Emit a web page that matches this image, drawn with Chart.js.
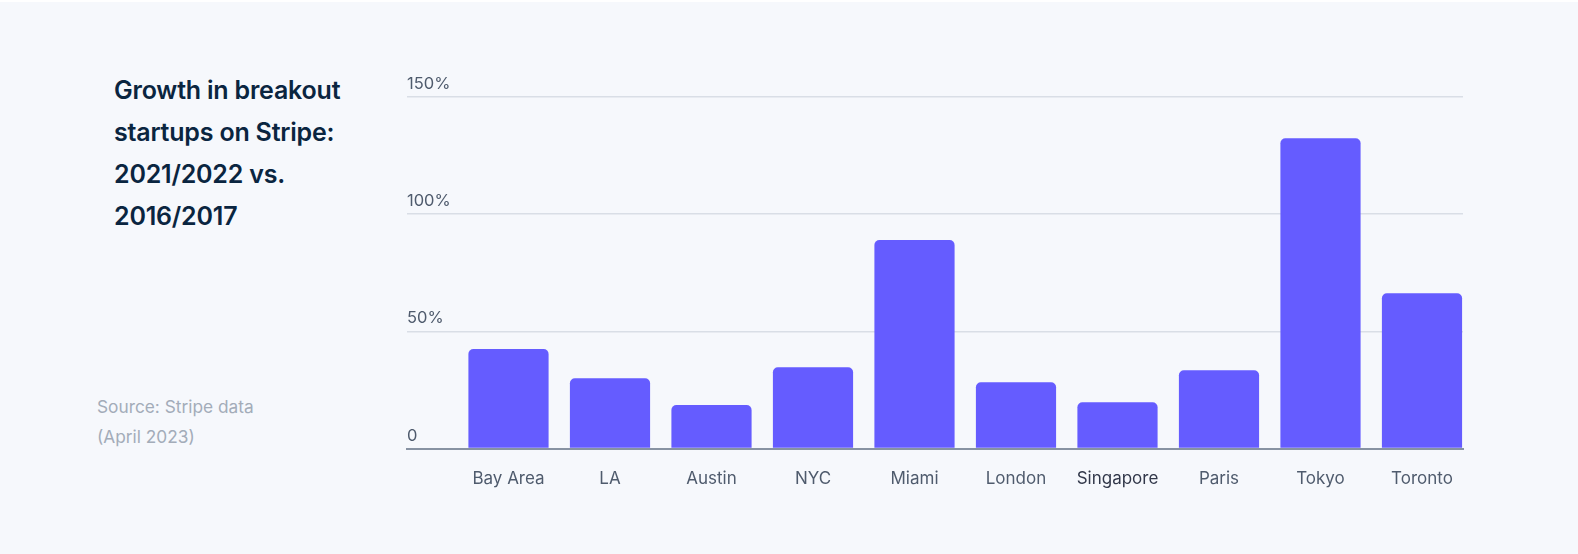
<!DOCTYPE html>
<html>
<head>
<meta charset="utf-8">
<script src="https://cdn.jsdelivr.net/npm/chart.js@4/dist/chart.umd.min.js"></script>
<style>
  html, body { margin: 0; padding: 0; background: #ffffff; }
  #panel { position: absolute; left: 0; top: 2px; width: 1578px; height: 552px; background: #f6f8fc; }
  #title { position: absolute; left: 114px; top: 69px; width: 270px; font-family: Inter, sans-serif; font-weight: 600;
           font-size: 25px; line-height: 42px; color: #0a2540; letter-spacing: -0.2px; }
  #source { position: absolute; left: 97px; top: 392px; font-family: Inter, sans-serif; font-size: 17.3px;
            line-height: 30px; color: #a3acb9; }
  #wrap { position: absolute; left: 0; top: 0; width: 1578px; height: 554px; }
</style>
</head>
<body>
<div id="panel"></div>
<div id="title">Growth in breakout startups on Stripe: 2021/2022 vs. 2016/2017</div>
<div id="source">Source: Stripe data<br>(April 2023)</div>
<div id="wrap"><canvas id="mycanvas"></canvas></div>
<script>
var cities = ['Bay Area', 'LA', 'Austin', 'NYC', 'Miami', 'London', 'Singapore', 'Paris', 'Tokyo', 'Toronto'];
var growth = [42.5, 30.0, 18.6, 34.7, 89.0, 28.3, 19.8, 33.4, 132.4, 66.3];
var yTicks = [0, 50, 100, 150];
var yTickLabels = ['0', '50%', '100%', '150%'];

// bars sit on a linear x axis so there is an empty slot left of Bay Area
var points = [];
for (var i in growth) {
  points.push({x: Number(i), y: growth[i]});
}

Chart.defaults.font.family = 'Inter, sans-serif';

var ctx = document.getElementById('mycanvas');
var barGraph = new Chart(ctx, {
  type: 'bar',
  data: {
    datasets: [{
      data: points,
      backgroundColor: '#655cff',
      borderRadius: 5,
      borderSkipped: 'start',
      categoryPercentage: 1,
      barPercentage: 0.79
    }]
  },
  options: {
    responsive: true,
    maintainAspectRatio: false,
    animation: false,
    layout: { padding: { left: 407, right: 115, top: 97, bottom: 45 } },
    plugins: { legend: { display: false }, tooltip: { enabled: false } },
    scales: {
      x: {
        type: 'linear',
        offset: false,
        bounds: 'data',
        min: -1,
        max: 9.404,
        afterBuildTicks: function(scale) {
          scale.ticks = cities.map(function(c, i) { return {value: i}; });
        },
        grid: { display: false, drawTicks: false },
        border: { display: true, color: '#8792a2', width: 2, z: 1 },
        ticks: {
          padding: 20,
          color: function(c) { return c.index === 6 ? '#32384a' : '#4f5b6d'; },
          font: { size: 17 },
          maxRotation: 0,
          autoSkip: false,
          callback: function(v) { return cities[v]; }
        }
      },
      y: {
        min: 0,
        max: 150,
        afterBuildTicks: function(scale) {
          scale.ticks = yTicks.map(function(v) { return {value: v}; });
        },
        grid: { color: '#d9dee6', lineWidth: 1.5, drawTicks: false },
        border: { display: false },
        ticks: {
          mirror: true,
          padding: 0,
          labelOffset: -13,
          color: '#4f5b6d',
          font: { size: 16.5 },
          callback: function(v) { return yTickLabels[yTicks.indexOf(v)]; }
        }
      }
    }
  }
});
</script>
</body>
</html>
